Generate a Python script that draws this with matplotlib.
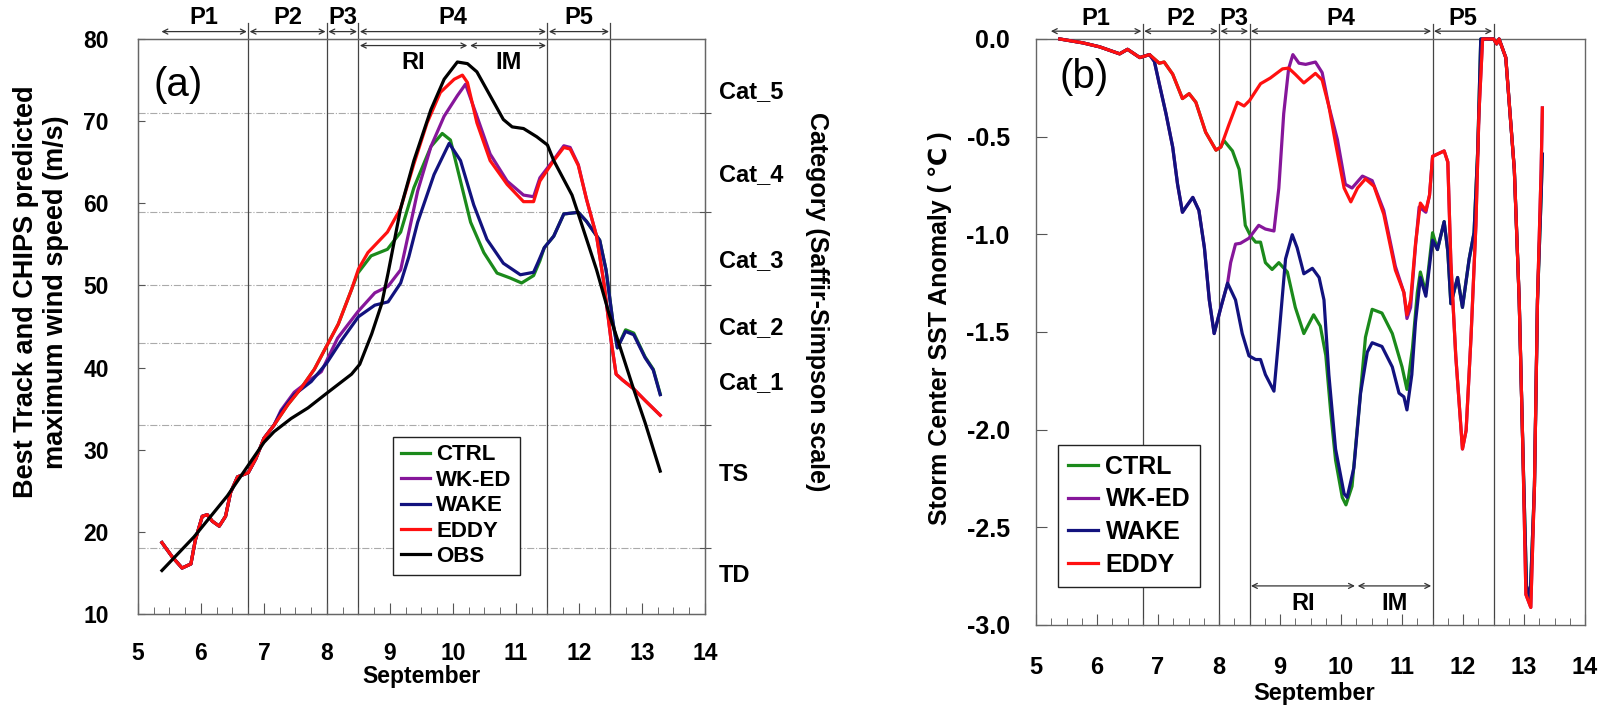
import matplotlib.pyplot as plt
from matplotlib.ticker import MultipleLocator, FormatStrFormatter

plt.rcParams['font.family'] = ['Liberation Sans', 'DejaVu Sans']
plt.rcParams['font.weight'] = 'bold'
plt.rcParams['axes.labelweight'] = 'bold'
plt.rcParams['axes.unicode_minus'] = False

# ---------------- panel (a): max wind speed (m/s) ----------------
# all model runs share the same early track
a_early_x = [5.38, 5.54, 5.7, 5.84, 5.91, 6.02, 6.1, 6.18, 6.29, 6.39, 6.47, 6.58, 6.75, 6.87, 7.0, 7.16]
a_early_y = [18.7, 17.0, 15.6, 16.1, 19.0, 21.9, 22.1, 21.3, 20.7, 21.9, 24.8, 26.7, 27.2, 28.9, 31.4, 33.0]

a_ctrl_x = [7.38, 7.59, 7.8, 8.0, 8.18, 8.39, 8.49, 8.7, 8.96, 9.17, 9.38, 9.65, 9.83, 9.96, 10.12, 10.28,
            10.49, 10.7, 10.91, 11.09, 11.28, 11.38, 11.45, 11.6, 11.76, 11.99, 12.12, 12.33, 12.43, 12.54,
            12.61, 12.74, 12.87, 13.05, 13.18, 13.29]
a_ctrl_y = [35.5, 37.5, 39.8, 42.7, 45.3, 49.5, 51.5, 53.6, 54.4, 56.5, 61.9, 66.9, 68.5, 67.7, 62.7, 57.7,
            54.0, 51.5, 50.9, 50.3, 51.2, 53.0, 54.6, 56.0, 58.7, 58.9, 57.8, 55.5, 51.9, 45.5,
            42.4, 44.6, 44.2, 41.3, 39.8, 36.8]

a_wked_x = [7.27, 7.48, 7.75, 7.91, 8.17, 8.49, 8.76, 8.97, 9.17, 9.3, 9.44, 9.65, 9.86, 10.07, 10.2, 10.38,
            10.59, 10.86, 11.12, 11.28, 11.38, 11.6, 11.76, 11.86, 11.99, 12.12, 12.28, 12.4, 12.51, 12.59,
            12.69, 12.87, 13.05, 13.29]
a_wked_y = [34.8, 37.0, 38.6, 39.5, 43.6, 46.8, 49.1, 49.9, 51.9, 56.5, 61.5, 66.9, 70.6, 73.1, 74.5, 70.6,
            66.0, 62.7, 61.0, 60.8, 63.1, 65.3, 67.0, 66.8, 64.7, 60.5, 56.0, 50.1, 43.3, 39.2,
            38.5, 37.4, 36.0, 34.2]

a_wake_x = [7.27, 7.48, 7.75, 8.0, 8.23, 8.5, 8.76, 8.97, 9.17, 9.3, 9.44, 9.7, 9.94, 10.12, 10.33, 10.54,
            10.8, 11.07, 11.28, 11.35, 11.45, 11.6, 11.76, 11.99, 12.12, 12.33, 12.43, 12.54, 12.61, 12.74,
            12.87, 13.05, 13.18, 13.29]
a_wake_y = [34.6, 36.7, 38.3, 40.6, 43.3, 46.2, 47.6, 48.0, 50.3, 53.5, 57.7, 63.5, 67.3, 65.2, 59.8, 55.6,
            52.7, 51.3, 51.6, 52.8, 54.6, 56.0, 58.7, 58.9, 57.8, 55.5, 51.9, 45.5, 42.4, 44.4,
            44.0, 41.2, 39.7, 36.7]

a_eddy_x = [7.38, 7.59, 7.8, 8.0, 8.18, 8.39, 8.5, 8.65, 8.96, 9.17, 9.38, 9.59, 9.8, 10.02, 10.15, 10.23,
            10.38, 10.59, 10.86, 11.12, 11.28, 11.38, 11.6, 11.76, 11.86, 11.99, 12.12, 12.28, 12.4, 12.51,
            12.59, 12.69, 12.87, 13.05, 13.29]
a_eddy_y = [35.5, 37.5, 39.8, 42.7, 45.3, 49.5, 52.0, 54.0, 56.5, 59.4, 64.8, 69.8, 73.5, 75.1, 75.6, 74.7,
            69.8, 65.2, 62.3, 60.2, 60.2, 62.7, 65.2, 66.8, 66.6, 64.6, 60.5, 56.0, 50.1, 43.3,
            39.2, 38.5, 37.4, 36.0, 34.2]

obs_x = [5.38, 5.89, 6.42, 6.75, 7.0, 7.16, 7.43, 7.7, 8.0, 8.39, 8.52, 8.71, 8.87, 8.97, 9.17, 9.38, 9.65,
         9.86, 10.07, 10.23, 10.38, 10.59, 10.8, 10.94, 11.12, 11.33, 11.5, 11.6, 11.89, 11.99, 12.28, 12.48,
         12.64, 12.85, 13.05, 13.29]
obs_y = [15.3, 19.4, 24.4, 28.1, 30.9, 32.2, 33.8, 35.1, 36.9, 39.2, 40.4, 44.1, 47.8, 51.5, 59.4, 65.2, 71.4,
         75.1, 77.2, 77.0, 76.0, 73.1, 70.2, 69.3, 69.1, 68.1, 67.1, 65.2, 61.0, 58.7, 51.9, 46.5,
         42.8, 37.8, 33.3, 27.4]

cat_bounds = [18, 33, 43, 50, 59, 71]
cat_names = ['TD', 'TS', 'Cat_1', 'Cat_2', 'Cat_3', 'Cat_4', 'Cat_5']
cat_name_y = [15.0, 27.3, 38.5, 45.2, 53.3, 63.8, 73.9]

# ---------------- panel (b): SST anomaly (C) ----------------
b_early_x = [5.39, 5.77, 6.04, 6.37, 6.5, 6.7, 6.86]
b_early_y = [0.0, -0.02, -0.04, -0.076, -0.053, -0.095, -0.08]

b_red_pre_x = [7.02, 7.1, 7.24, 7.4, 7.51, 7.62, 7.78, 7.95, 8.03]
b_red_pre_y = [-0.124, -0.118, -0.18, -0.305, -0.28, -0.324, -0.477, -0.569, -0.553]
b_red_mid_x = [8.16, 8.3, 8.41, 8.5, 8.68, 8.84, 9.04, 9.14, 9.25, 9.39, 9.58, 9.69, 9.8, 9.91, 10.05,
               10.16, 10.27, 10.4, 10.54, 10.7, 10.89, 11.03, 11.08, 11.14, 11.22, 11.3, 11.39]
b_red_mid_y = [-0.44, -0.324, -0.343, -0.315, -0.229, -0.2, -0.153, -0.149, -0.181, -0.225, -0.176, -0.21,
               -0.344, -0.534, -0.763, -0.834, -0.763, -0.716, -0.754, -0.897, -1.183, -1.298, -1.412,
               -1.336, -1.05, -0.84, -0.878]
b_red_tail_x = [11.45, 11.5, 11.69, 11.75, 11.8, 11.88, 11.99, 12.05, 12.13, 12.21, 12.26, 12.32, 12.5,
                12.55, 12.59, 12.7, 12.84, 12.92, 12.98, 13.03, 13.11, 13.17, 13.22, 13.28, 13.3]
b_red_tail_y = [-0.8, -0.601, -0.573, -0.63, -1.145, -1.622, -2.099, -2.004, -1.527, -0.954, -0.382, 0.0,
                0.0, -0.025, 0.0, -0.095, -0.668, -1.336, -2.099, -2.844, -2.91, -2.29, -1.336, -0.668,
                -0.353]

b_wake_pre_x = [6.94, 7.02, 7.13, 7.24, 7.32, 7.4, 7.46, 7.57, 7.67, 7.76, 7.84, 7.92, 8.03, 8.14]
b_wake_pre_y = [-0.115, -0.229, -0.382, -0.553, -0.744, -0.887, -0.859, -0.811, -0.878, -1.069, -1.336,
                -1.508, -1.374, -1.25]
b_wake_mid_x = [8.27, 8.38, 8.49, 8.6, 8.68, 8.76, 8.9, 8.98, 9.09, 9.2, 9.28, 9.39, 9.53, 9.64, 9.72, 9.8,
                9.91, 10.05, 10.1, 10.21, 10.32, 10.43, 10.51, 10.67, 10.84, 10.95, 11.03, 11.08, 11.16,
                11.22, 11.3, 11.39, 11.5]
b_wake_mid_y = [-1.336, -1.508, -1.622, -1.641, -1.641, -1.718, -1.803, -1.527, -1.126, -1.002, -1.069,
                -1.202, -1.174, -1.221, -1.336, -1.718, -2.099, -2.328, -2.347, -2.195, -1.813, -1.603,
                -1.555, -1.574, -1.679, -1.813, -1.832, -1.899, -1.718, -1.45, -1.221, -1.317, -1.03]
b_wake_tail_x = [11.58, 11.69, 11.75, 11.8, 11.91, 11.99, 12.1, 12.18, 12.24, 12.29, 12.5, 12.55, 12.59,
                 12.7, 12.84, 12.92, 12.98, 13.04, 13.1, 13.17, 13.22, 13.28, 13.3]
b_wake_tail_y = [-1.078, -0.935, -1.088, -1.355, -1.221, -1.374, -1.126, -0.992, -0.573, 0.0, 0.0, -0.025,
                 0.0, -0.095, -0.668, -1.336, -2.099, -2.8, -2.86, -2.29, -1.336, -0.8, -0.59]

b_ctrl_mid_x = [8.08, 8.22, 8.33, 8.38, 8.43, 8.52, 8.6, 8.68, 8.76, 8.87, 8.98, 9.12, 9.25, 9.39, 9.55, 9.66,
                9.75, 9.83, 9.91, 10.02, 10.08, 10.18, 10.29, 10.4, 10.51, 10.67, 10.84, 11.0, 11.08, 11.17,
                11.25, 11.3, 11.39, 11.5]
b_ctrl_mid_y = [-0.52, -0.573, -0.668, -0.8, -0.954, -1.01, -1.04, -1.04, -1.145, -1.18, -1.145, -1.193,
                -1.374, -1.508, -1.412, -1.47, -1.62, -1.908, -2.156, -2.347, -2.385, -2.29, -1.908, -1.527,
                -1.384, -1.403, -1.508, -1.679, -1.794, -1.584, -1.298, -1.193, -1.3, -0.992]

b_wked_mid_x = [8.19, 8.27, 8.35, 8.49, 8.65, 8.76, 8.9, 8.98, 9.06, 9.14, 9.21, 9.31, 9.42, 9.58, 9.69, 9.8,
                9.94, 10.07, 10.18, 10.35, 10.51, 10.7, 10.89, 11.03, 11.08, 11.14, 11.22, 11.28, 11.39]
b_wked_mid_y = [-1.145, -1.05, -1.046, -1.02, -0.954, -0.973, -0.983, -0.763, -0.382, -0.153, -0.08, -0.124,
                -0.13, -0.118, -0.172, -0.344, -0.515, -0.744, -0.763, -0.702, -0.725, -0.878, -1.164,
                -1.298, -1.431, -1.374, -1.06, -0.86, -0.887]

# period boundaries (days of September)
period_edges = [6.75, 8.0, 8.5, 11.5, 12.5]
period_names = ['P1', 'P2', 'P3', 'P4', 'P5']
ri_im_edges = [8.5, 10.25, 11.5]

colors = {'CTRL': '#1b8a1b', 'WK-ED': '#86169a', 'WAKE': '#12127e', 'EDDY': '#ff1010', 'OBS': 'black'}

series_a = {
    'CTRL': (a_early_x + a_ctrl_x, a_early_y + a_ctrl_y),
    'WK-ED': (a_early_x + a_wked_x, a_early_y + a_wked_y),
    'WAKE': (a_early_x + a_wake_x, a_early_y + a_wake_y),
    'EDDY': (a_early_x + a_eddy_x, a_early_y + a_eddy_y),
    'OBS': (obs_x, obs_y),
}
series_b = {
    'CTRL': (b_early_x + b_red_pre_x + b_ctrl_mid_x + b_wake_tail_x,
             b_early_y + b_red_pre_y + b_ctrl_mid_y + b_wake_tail_y),
    'WK-ED': (b_early_x + b_wake_pre_x + b_wked_mid_x + b_red_tail_x,
              b_early_y + b_wake_pre_y + b_wked_mid_y + b_red_tail_y),
    'WAKE': (b_early_x + b_wake_pre_x + b_wake_mid_x + b_wake_tail_x,
             b_early_y + b_wake_pre_y + b_wake_mid_y + b_wake_tail_y),
    'EDDY': (b_early_x + b_red_pre_x + b_red_mid_x + b_red_tail_x,
             b_early_y + b_red_pre_y + b_red_mid_y + b_red_tail_y),
}

fig = plt.figure(figsize=(16.12, 7.05), dpi=100)
ax1 = fig.add_axes([0.0856, 0.129, 0.3517, 0.8157])
ax2 = fig.add_axes([0.6427, 0.1135, 0.3406, 0.8312])

arrow_kw = dict(arrowstyle='<->', color='#333333', lw=0.9, mutation_scale=9, shrinkA=1, shrinkB=1)


def spans(ax, start, y_arrow, y_text, edges, names, fs):
    bounds = [start] + edges
    for i, name in enumerate(names):
        x0, x1 = bounds[i], bounds[i + 1]
        ax.annotate('', xy=(x1, y_arrow), xytext=(x0, y_arrow), arrowprops=arrow_kw,
                    annotation_clip=False)
        ax.text((x0 + x1) / 2, y_text, name, ha='center', va='center', fontsize=fs, clip_on=False)


def style_axes(ax):
    for sp in ax.spines.values():
        sp.set_color('#666666')
        sp.set_linewidth(1.0)
    ax.set_xlim(5, 14)
    ax.xaxis.set_major_locator(MultipleLocator(1))
    ax.xaxis.set_minor_locator(MultipleLocator(0.25))
    ax.tick_params(axis='x', which='major', direction='in', length=8, color='#555555')
    ax.tick_params(axis='x', which='minor', direction='in', length=5, color='#555555')
    ax.tick_params(axis='y', which='major', direction='in', length=5, color='#555555')


# ---- panel (a)
style_axes(ax1)
ax1.set_ylim(10, 80)
ax1.yaxis.set_major_locator(MultipleLocator(10))
ax1.tick_params(axis='x', labelsize=16.5, pad=20)
ax1.tick_params(axis='y', labelsize=16.5, pad=21)
for b in cat_bounds:
    ax1.axhline(b, ls='-.', color='#aaaaaa', lw=0.8, zorder=1)
for x in period_edges:
    ax1.plot([x, x], [10, 81.9], color='#444444', lw=0.9, clip_on=False, zorder=1)
for name, (xs, ys) in series_a.items():
    ax1.plot(xs, ys, color=colors[name], lw=2.3, label=name, zorder=3)

spans(ax1, 5.35, 80.9, 82.6, period_edges, period_names, 17)
spans(ax1, ri_im_edges[0], 79.2, 77.1, ri_im_edges[1:], ['RI', 'IM'], 17)
ax1.text(5.63, 74.4, '(a)', fontsize=29, fontweight='normal', ha='center', va='center')

ax1r = ax1.twinx()
ax1r.set_ylim(10, 80)
ax1r.set_yticks(cat_bounds)
ax1r.set_yticklabels([])
ax1r.set_yticks(cat_name_y, minor=True)
ax1r.set_yticklabels(cat_names, minor=True)
ax1r.tick_params(axis='y', which='major', direction='inout', length=8, color='#555555')
ax1r.tick_params(axis='y', which='minor', length=0, pad=10, labelsize=17)
for sp in ax1r.spines.values():
    sp.set_color('#666666')

leg = ax1.legend(loc='lower left', bbox_to_anchor=(0.45, 0.068), fontsize=16, frameon=True,
                 fancybox=False, edgecolor='#222222', framealpha=1, handlelength=1.3,
                 handletextpad=0.3, labelspacing=0.2, borderpad=0.35, borderaxespad=0)
leg.get_frame().set_linewidth(1.0)

ax1.set_xlabel('September', fontsize=16.5, fontweight='bold')
ax1.xaxis.set_label_coords(0.5, -0.089)
ax1.xaxis.label.set_va('top')

fig.text(0.0257, 0.586, 'Best Track and CHIPS predicted\nmaximum wind speed (m/s)', rotation=90,
         ha='center', va='center', fontsize=19.5, linespacing=1.2)
fig.text(0.507, 0.572, 'Category (Saffir-Simpson scale)', rotation=270,
         ha='center', va='center', fontsize=18)

# ---- panel (b)
style_axes(ax2)
ax2.set_ylim(-3.0, 0.0)
ax2.yaxis.set_major_locator(MultipleLocator(0.5))
ax2.yaxis.set_major_formatter(FormatStrFormatter('%.1f'))
ax2.tick_params(axis='y', which='major', length=8)
ax2.tick_params(axis='x', labelsize=17, pad=22)
ax2.tick_params(axis='y', labelsize=18, pad=19)
for x in period_edges:
    ax2.plot([x, x], [-3.0, 0.077], color='#444444', lw=0.9, clip_on=False, zorder=1)
for name, (xs, ys) in series_b.items():
    ax2.plot(xs, ys, color=colors[name], lw=2.3, label=name, zorder=3, clip_on=False)

spans(ax2, 5.22, 0.04, 0.105, period_edges, period_names, 17)
spans(ax2, ri_im_edges[0], -2.80, -2.89, ri_im_edges[1:], ['RI', 'IM'], 17)
ax2.text(5.79, -0.195, '(b)', fontsize=29, fontweight='normal', ha='center', va='center')

leg2 = ax2.legend(loc='lower left', bbox_to_anchor=(0.04, 0.065), fontsize=18, frameon=True,
                  fancybox=False, edgecolor='#222222', framealpha=1, handlelength=1.2,
                  handletextpad=0.3, labelspacing=0.35, borderpad=0.4, borderaxespad=0)
leg2.get_frame().set_linewidth(1.0)

ax2.set_xlabel('September', fontsize=17, fontweight='bold')
ax2.xaxis.set_label_coords(0.506, -0.097)
ax2.xaxis.label.set_va('top')

fig.text(0.583, 0.535, 'Storm Center SST Anomaly ( \u2103 )', rotation=90,
         ha='center', va='center', fontsize=18)

fig.savefig('out.png', dpi=100)
